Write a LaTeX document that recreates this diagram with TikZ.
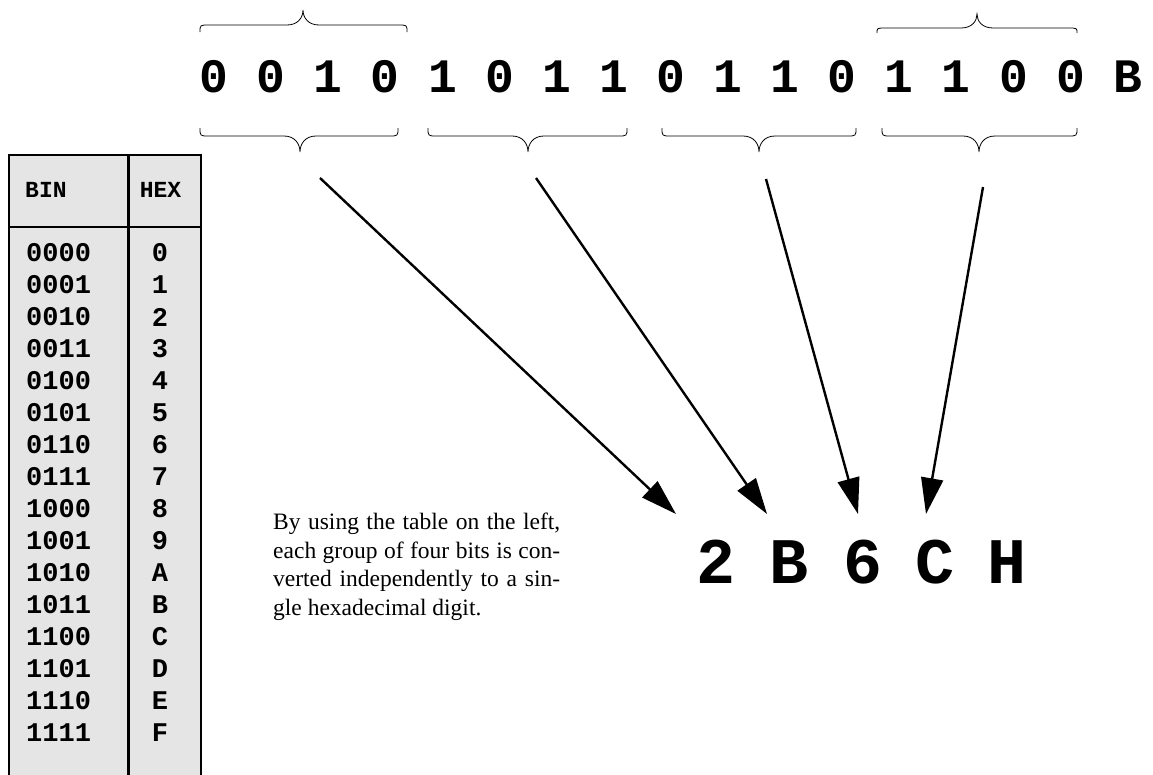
\documentclass[tikz,border=0pt]{standalone}
\usepackage{fontspec}
\setmainfont{Liberation Serif}
\newfontfamily\cour{Liberation Mono}
\usetikzlibrary{arrows.meta}
\newcommand\grpbrace[6]{%
 \draw[bracepath] (#1,#4) .. controls (#1,#5) and (#1,#5) .. ({#1+9},#5) -- ({#3-16},#5) .. controls ({#3-5},#5) and (#3,{(#5+#6)/2}) .. (#3,#6) .. controls (#3,{(#5+#6)/2}) and ({#3+5},#5) .. ({#3+16},#5) -- ({#2-9},#5) .. controls (#2,#5) and (#2,#5) .. (#2,#4);}
\begin{document}
\begin{tikzpicture}[x=1pt,y=-1pt,
 bit/.style={font=\cour\bfseries\fontsize{48}{48}\selectfont, inner sep=0},
 hexout/.style={font=\cour\bfseries\fontsize{65}{65}\selectfont, inner sep=0},
 cell/.style={font=\cour\bfseries\fontsize{27}{27}\selectfont, inner sep=0},
 head/.style={font=\cour\bfseries\fontsize{23}{23}\selectfont, inner sep=0},
 tabline/.style={line width=2.2pt},
 bracepath/.style={line width=0.8pt},
 conv/.style={line width=2.4pt, -{Triangle[length=36pt,width=22pt]}}]
\useasboundingbox (0,0) rectangle (1153,774);
% table
\fill[gray!20] (9,155) rectangle (201,780);
\draw[tabline] (9,780) -- (9,155) -- (201,155) -- (201,780);
\draw[tabline] (128.5,155) -- (128.5,780);
\draw[tabline] (9,227) -- (201,227);
\node[head, anchor=west] (binhead) at (25,190) {BIN};
\node[head] (hexhead) at (160.5,190) {HEX};
\foreach \b/\h [count=\i from 0] in {0000/0,0001/1,0010/2,0011/3,0100/4,0101/5,0110/6,0111/7,1000/8,1001/9,1010/A,1011/B,1100/C,1101/D,1110/E,1111/F}{
 \node[cell, anchor=west] (bin\i) at (26,{253+32*\i}) {\b};
 \node[cell] (hex\i) at (160,{253+32*\i}) {\h};
}
% bits
\foreach \d [count=\i from 0] in {0,0,1,0,1,0,1,1,0,1,1,0,1,1,0,0,B}
 \node[bit] (bit\i) at ({214+57.1*\i},77) {\d};
% braces
\grpbrace{200}{407}{303}{32}{25}{10}
\grpbrace{877}{1077}{977}{33}{28}{14}
\grpbrace{200}{398}{300}{128}{136}{152}
\grpbrace{428}{627}{528}{128}{136}{152}
\grpbrace{662}{856}{759}{128}{136}{152}
\grpbrace{882}{1077}{979}{128}{136}{152}
% hex result
\node[hexout] (h1) at (716,562) {2};
\node[hexout] (h2) at (789,562) {B};
\node[hexout] (h3) at (863,562) {6};
\node[hexout] (h4) at (935,562) {C};
\node[hexout] (h5) at (1007,562) {H};
% arrows
\coordinate (s1) at (320,178); \coordinate (t1) at (676,514);
\coordinate (s2) at (536,178); \coordinate (t2) at (767,514);
\coordinate (s3) at (766,179); \coordinate (t3) at (858,514);
\coordinate (s4) at (983,187); \coordinate (t4) at (926,514);
\draw[conv] (s1) -- (t1);
\draw[conv] (s2) -- (t2);
\draw[conv] (s3) -- (t3);
\draw[conv] (s4) -- (t4);
% note
\node[anchor=north west, text width=287pt, align=justify, inner sep=0,
 font=\fontsize{23.5}{28.5}\selectfont] (note) at (273,513)
 {By using the table on the left,\linebreak each group of four bits is con-\linebreak verted independently to a sin-\linebreak gle hexadecimal digit.};
\end{tikzpicture}
\end{document}
